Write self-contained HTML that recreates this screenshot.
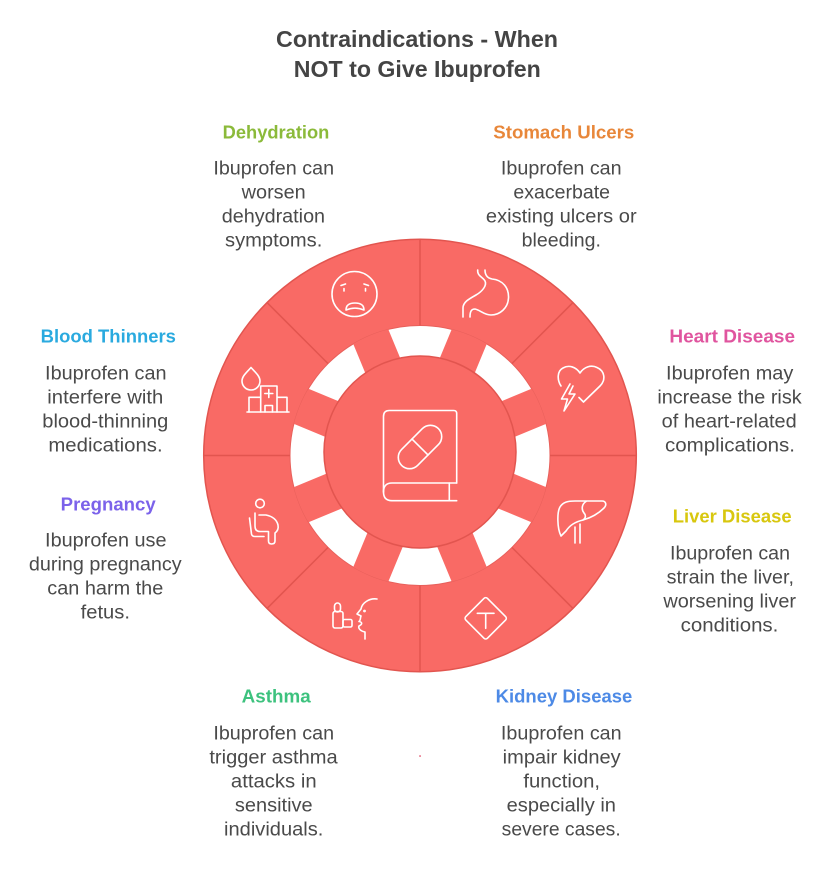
<!DOCTYPE html>
<html>
<head>
<meta charset="utf-8">
<style>
  html,body{margin:0;padding:0;background:#fff;}
  svg{display:block;}
  .t{font-family:"Liberation Sans",Arial,sans-serif;font-weight:bold;font-size:23px;fill:#444;}
  .h{font-family:"Liberation Sans",Arial,sans-serif;font-weight:bold;font-size:18.5px;}
  .b{font-family:"Liberation Sans",Arial,sans-serif;font-size:19px;fill:#4a4a4a;}
  .ic{fill:none;stroke:#fff;stroke-width:1.6;stroke-linecap:round;stroke-linejoin:round;}
</style>
</head>
<body>
<svg width="834" height="888" viewBox="0 0 834 888" xmlns="http://www.w3.org/2000/svg">
  <defs>
    <clipPath id="c130"><circle cx="420" cy="455.5" r="130"/></clipPath>
  </defs>

  <!-- Title -->
  <text class="t" x="417" y="47" text-anchor="middle" textLength="282" lengthAdjust="spacingAndGlyphs">Contraindications - When</text>
  <text class="t" x="417.3" y="77" text-anchor="middle" textLength="247" lengthAdjust="spacingAndGlyphs">NOT to Give Ibuprofen</text>

  <!-- Wheel -->
  <circle cx="420" cy="455.5" r="216.3" fill="#F96A65" stroke="#E2554F" stroke-width="1.5"/>
  <circle cx="420" cy="455.5" r="130" fill="#fff" stroke="#E8605B" stroke-width="1"/>
  <g clip-path="url(#c130)" fill="#F96A65">
    <rect x="0" y="-19" width="140" height="38" transform="translate(420,455.5) rotate(22.5)"/>
    <rect x="0" y="-19" width="140" height="38" transform="translate(420,455.5) rotate(67.5)"/>
    <rect x="0" y="-19" width="140" height="38" transform="translate(420,455.5) rotate(112.5)"/>
    <rect x="0" y="-19" width="140" height="38" transform="translate(420,455.5) rotate(157.5)"/>
    <rect x="0" y="-19" width="140" height="38" transform="translate(420,455.5) rotate(202.5)"/>
    <rect x="0" y="-19" width="140" height="38" transform="translate(420,455.5) rotate(247.5)"/>
    <rect x="0" y="-19" width="140" height="38" transform="translate(420,455.5) rotate(292.5)"/>
    <rect x="0" y="-19" width="140" height="38" transform="translate(420,455.5) rotate(337.5)"/>
  </g>
  <g stroke="#E2554F" stroke-width="1.5">
    <line x1="550" y1="455.5" x2="636" y2="455.5"/>
    <line x1="290" y1="455.5" x2="204" y2="455.5"/>
    <line x1="420" y1="325.5" x2="420" y2="239.5"/>
    <line x1="420" y1="585.5" x2="420" y2="671.5"/>
    <line x1="511.9" y1="363.6" x2="572.7" y2="302.8"/>
    <line x1="328.1" y1="363.6" x2="267.3" y2="302.8"/>
    <line x1="328.1" y1="547.4" x2="267.3" y2="608.2"/>
    <line x1="511.9" y1="547.4" x2="572.7" y2="608.2"/>
  </g>
  <circle cx="420" cy="452" r="96" fill="#F96A65" stroke="#E2554F" stroke-width="1.5"/>

  <!-- Center book icon -->
  <g class="ic" stroke-width="1.8">
    <path d="M456.7,483 V413.5 Q456.7,410.5 453.7,410.5 H389.3 Q383.5,410.5 383.5,416.5 V492"/>
    <path d="M456.7,483 H392 Q383.5,483 383.5,492 Q383.5,500.7 392,500.7 H456.7"/>
    <path d="M449.3,483 V500.7"/>
    <g transform="translate(420,447) rotate(-45)">
      <rect x="-26" y="-11.3" width="52" height="22.6" rx="11.3"/>
      <line x1="0" y1="-11.3" x2="0" y2="11.3"/>
    </g>
  </g>

  <!-- Sad face (Dehydration) -->
  <g class="ic">
    <circle cx="354.5" cy="294" r="22.5"/>
    <path d="M344,288.5 V291"/>
    <path d="M365.5,288.5 V291"/>
    <path d="M341,285.5 L345.5,284"/>
    <path d="M368.5,285.5 L364,284"/>
    <path d="M346,310 C346,304.5 350,303 355,303 C360,303 364,304.5 364,310 C358,307.5 352,307.5 346,310 Z"/>
  </g>

  <!-- Stomach -->
  <g class="ic">
    <path d="M485,270 C485,275 487,278 492,279 C503,280 509,288 508.5,298 C508,308 500,315 491,315 C484,315 480,310 475,309 C471,309 470,312 470,317"/>
    <path d="M477.7,270 C477,276 483,277 485,281 C487,285 483,291 476,295 C469,299 463,302 463,308 V317"/>
  </g>

  <!-- Heart with bolt -->
  <g class="ic">
    <path d="M561,386 C557,380 557,371 563,368 C569,364.5 576,367 580,373 C584,367 591,364.5 597,367.5 C605,371 606,380 600,386 L583.5,402 L579,397.5"/>
    <path d="M570,384 L561.5,399 H567.5 L564,411 L575,394 H569 L573,386"/>
  </g>

  <!-- Liver -->
  <g class="ic">
    <path d="M561,536 C557,528 557,512 560,507 C563,502 568,501 575,501 H602 C606,501 607,505 604,508 C598,514 590,518 583,520 C575,522 570,525 566,531 L561,536"/>
    <path d="M575,543 V527 M580,543 V524"/>
    <path d="M586,501.5 C582,504 581,509 584,513 C586,515 586,518 583,520"/>
  </g>

  <!-- Diamond T (Kidney) -->
  <g class="ic">
    <rect x="-15.3" y="-15.3" width="30.6" height="30.6" rx="2.5" transform="translate(485.7,618.3) rotate(45)"/>
    <path d="M477.3,613.3 H494 M485.7,613.3 V628.3"/>
  </g>

  <!-- Asthma -->
  <g class="ic">
    <rect x="334.5" y="603" width="6" height="9" rx="3"/>
    <rect x="333" y="611.5" width="10" height="16.5" rx="2"/>
    <rect x="343" y="619.5" width="9" height="7.5" rx="1.5"/>
    <path d="M377,599 C369,598 362,603 361,609 L357,614 L361,616 C360,618 361,620 359,621.5 C362,622 363,624 359,626 C358,628 360,631 365,632 V639"/>
    <circle cx="364.5" cy="611" r="0.6"/>
  </g>

  <!-- Pregnant seated -->
  <g class="ic">
    <circle cx="260" cy="503.5" r="4.3"/>
    <path d="M255,513 V526 Q255,531.5 260,531.5 H268.5 V541 Q268.5,544 271.5,544 Q275,544 275,541 V533 Q279,530 278,525 Q276,517 266,515 H259"/>
    <path d="M249.5,518 L251.5,534 Q252,536.5 255,536.5 H264"/>
  </g>

  <!-- Blood drop + hospital -->
  <g class="ic">
    <path d="M251,367.5 C247,372 242,376 242,381 C242,386 246,390 251,390 C256,390 260,386 260,381 C260,376 255,372 251,367.5 Z"/>
    <path d="M249,412 V397.3 H260.7 M260.7,412 V386 H277 V412 M277,397.3 H287 V412"/>
    <path d="M247,412 H289"/>
    <path d="M265,412 V405.5 H272.5 V412"/>
    <path d="M268.8,389.5 V397.5 M264.8,393.5 H272.8"/>
  </g>

  <!-- Headings -->
  <text class="h" x="276" y="138.7" text-anchor="middle" fill="#8BBA3A" textLength="106.7" lengthAdjust="spacingAndGlyphs">Dehydration</text>
  <text class="h" x="563.8" y="138.7" text-anchor="middle" fill="#E8873A" textLength="141" lengthAdjust="spacingAndGlyphs">Stomach Ulcers</text>
  <text class="h" x="108.3" y="342.7" text-anchor="middle" fill="#2AAADF" textLength="135.3" lengthAdjust="spacingAndGlyphs">Blood Thinners</text>
  <text class="h" x="732.2" y="342.7" text-anchor="middle" fill="#E0559F" textLength="125.7" lengthAdjust="spacingAndGlyphs">Heart Disease</text>
  <text class="h" x="108.2" y="510.7" text-anchor="middle" fill="#7B62EA" textLength="95" lengthAdjust="spacingAndGlyphs">Pregnancy</text>
  <text class="h" x="732.2" y="522.7" text-anchor="middle" fill="#D8C70E" textLength="119" lengthAdjust="spacingAndGlyphs">Liver Disease</text>
  <text class="h" x="276.2" y="702.7" text-anchor="middle" fill="#3DC27E" textLength="69" lengthAdjust="spacingAndGlyphs">Asthma</text>
  <text class="h" x="564" y="702.7" text-anchor="middle" fill="#4D8AE6" textLength="136.7" lengthAdjust="spacingAndGlyphs">Kidney Disease</text>

  <!-- Dehydration body -->
  <g class="b" text-anchor="middle">
    <text x="273.7" y="174.3" textLength="120.7" lengthAdjust="spacingAndGlyphs">Ibuprofen can</text>
    <text x="273.7" y="198.3" textLength="64" lengthAdjust="spacingAndGlyphs">worsen</text>
    <text x="273.4" y="222.3" textLength="103.3" lengthAdjust="spacingAndGlyphs">dehydration</text>
    <text x="273.7" y="246.3" textLength="97.3" lengthAdjust="spacingAndGlyphs">symptoms.</text>
  </g>
  <!-- Stomach body -->
  <g class="b" text-anchor="middle">
    <text x="561.3" y="174.3" textLength="120.7" lengthAdjust="spacingAndGlyphs">Ibuprofen can</text>
    <text x="561.7" y="198.3" textLength="96.7" lengthAdjust="spacingAndGlyphs">exacerbate</text>
    <text x="561.3" y="222.3" textLength="150.7" lengthAdjust="spacingAndGlyphs">existing ulcers or</text>
    <text x="561.3" y="246.3" textLength="79.3" lengthAdjust="spacingAndGlyphs">bleeding.</text>
  </g>
  <!-- Blood Thinners body -->
  <g class="b" text-anchor="middle">
    <text x="105.8" y="379.3" textLength="121.5" lengthAdjust="spacingAndGlyphs">Ibuprofen can</text>
    <text x="105.3" y="403.3" textLength="116" lengthAdjust="spacingAndGlyphs">interfere with</text>
    <text x="105.3" y="427.3" textLength="126" lengthAdjust="spacingAndGlyphs">blood-thinning</text>
    <text x="105.5" y="451.3" textLength="114.3" lengthAdjust="spacingAndGlyphs">medications.</text>
  </g>
  <!-- Heart body -->
  <g class="b" text-anchor="middle">
    <text x="729.7" y="379.3" textLength="127.3" lengthAdjust="spacingAndGlyphs">Ibuprofen may</text>
    <text x="729.5" y="403.3" textLength="144.3" lengthAdjust="spacingAndGlyphs">increase the risk</text>
    <text x="729.2" y="427.3" textLength="135" lengthAdjust="spacingAndGlyphs">of heart-related</text>
    <text x="730" y="451.3" textLength="130" lengthAdjust="spacingAndGlyphs">complications.</text>
  </g>
  <!-- Pregnancy body -->
  <g class="b" text-anchor="middle">
    <text x="105.8" y="546.7" textLength="121.5" lengthAdjust="spacingAndGlyphs">Ibuprofen use</text>
    <text x="105.3" y="570.7" textLength="152.7" lengthAdjust="spacingAndGlyphs">during pregnancy</text>
    <text x="105.3" y="594.7" textLength="116" lengthAdjust="spacingAndGlyphs">can harm the</text>
    <text x="105.3" y="618.7" textLength="49.3" lengthAdjust="spacingAndGlyphs">fetus.</text>
  </g>
  <!-- Liver body -->
  <g class="b" text-anchor="middle">
    <text x="730" y="559.3" textLength="120" lengthAdjust="spacingAndGlyphs">Ibuprofen can</text>
    <text x="730.3" y="583.3" textLength="127.3" lengthAdjust="spacingAndGlyphs">strain the liver,</text>
    <text x="729.7" y="607.3" textLength="132.7" lengthAdjust="spacingAndGlyphs">worsening liver</text>
    <text x="729.5" y="631.3" textLength="97.7" lengthAdjust="spacingAndGlyphs">conditions.</text>
  </g>
  <!-- Asthma body -->
  <g class="b" text-anchor="middle">
    <text x="273.7" y="739.3" textLength="120.7" lengthAdjust="spacingAndGlyphs">Ibuprofen can</text>
    <text x="273.5" y="763.3" textLength="128.3" lengthAdjust="spacingAndGlyphs">trigger asthma</text>
    <text x="273.8" y="787.3" textLength="85.7" lengthAdjust="spacingAndGlyphs">attacks in</text>
    <text x="273.8" y="811.3" textLength="77.7" lengthAdjust="spacingAndGlyphs">sensitive</text>
    <text x="273.7" y="835.3" textLength="99.3" lengthAdjust="spacingAndGlyphs">individuals.</text>
  </g>
  <!-- Kidney body -->
  <g class="b" text-anchor="middle">
    <text x="561.3" y="739.3" textLength="120.7" lengthAdjust="spacingAndGlyphs">Ibuprofen can</text>
    <text x="561.7" y="763.3" textLength="118" lengthAdjust="spacingAndGlyphs">impair kidney</text>
    <text x="561.7" y="787.3" textLength="76.7" lengthAdjust="spacingAndGlyphs">function,</text>
    <text x="561.3" y="811.3" textLength="109.3" lengthAdjust="spacingAndGlyphs">especially in</text>
    <text x="561.2" y="835.3" textLength="119" lengthAdjust="spacingAndGlyphs">severe cases.</text>
  </g>

  <!-- tiny dot -->
  <rect x="419.3" y="755.3" width="1.5" height="1.5" fill="#E0506A"/>
</svg>
</body>
</html>
